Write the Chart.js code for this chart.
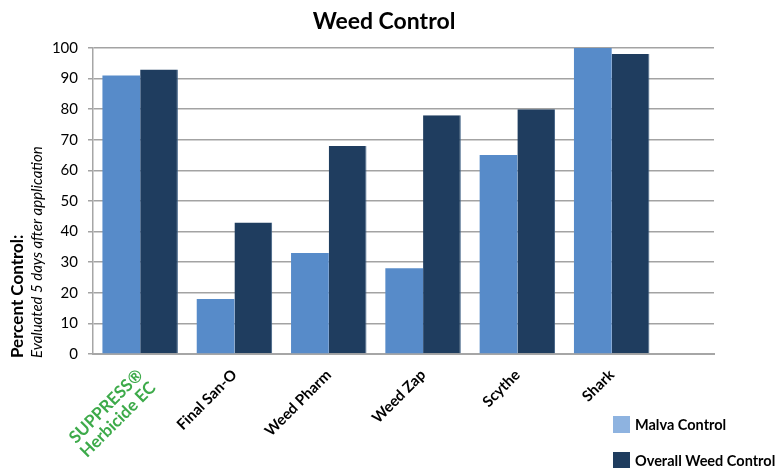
<!DOCTYPE html>
<html>
<head>
<meta charset="utf-8">
<script src="https://cdn.jsdelivr.net/npm/chart.js@4"></script>
<style>
  body { margin: 0; background: #fff; }
  #wrap { width: 778px; height: 468px; }
</style>
</head>
<body>
<div id="wrap"><canvas id="chart" width="778" height="468"></canvas></div>
<script>
const chartTitle = 'Weed Control';
const categories = [['SUPPRESS®', 'Herbicide EC'], 'Final San-O', 'Weed Pharm', 'Weed Zap', 'Scythe', 'Shark'];
const malvaControl = [91, 18, 33, 28, 65, 100];
const overallControl = [93, 43, 68, 78, 80, 98];
const seriesNames = ['Malva Control', 'Overall Weed Control'];
const yTicks = [0, 10, 20, 30, 40, 50, 60, 70, 80, 90, 100];
const yTitle = ['Percent Control:', 'Evaluated 5 days after application'];

const FONT = 'Lato, "Open Sans", sans-serif';
const barColors = ['#578BC9', '#1F3D5F'];
const legendColors = ['#8EB3E0', '#1F3D5F'];

// title, two-line axis title and the legend are drawn by hand
const overlay = {
    id: 'overlay',
    afterDraw(chart) {
        const ctx = chart.ctx;
        ctx.save();
        ctx.fillStyle = '#000';
        ctx.font = 'bold 23px ' + FONT;
        ctx.textAlign = 'center';
        ctx.textBaseline = 'middle';
        ctx.fillText(chartTitle, 384, 22);

        ctx.save();
        ctx.translate(18, 358);
        ctx.rotate(-Math.PI / 2);
        ctx.textAlign = 'left';
        ctx.font = 'bold 17px ' + FONT;
        ctx.fillText(yTitle[0], 0, 0);
        ctx.font = 'italic 15px ' + FONT;
        ctx.fillText(yTitle[1], 0, 19);
        ctx.restore();

        ctx.textAlign = 'left';
        ctx.font = 'bold 14.5px ' + FONT;
        seriesNames.forEach((name, i) => {
            const y = 416 + i * 36;
            ctx.fillStyle = legendColors[i];
            ctx.fillRect(613, y, 17, 17);
            ctx.fillStyle = '#000';
            ctx.fillText(name, 635, y + 9);
        });
        ctx.restore();
    }
};

new Chart(document.getElementById('chart'), {
    type: 'bar',
    data: {
        datasets: [{
            label: seriesNames[0],
            data: malvaControl.map((v, i) => ({x: i, y: v})),
            backgroundColor: barColors[0],
            categoryPercentage: 0.8,
            barPercentage: 1.0
        }, {
            label: seriesNames[1],
            data: overallControl.map((v, i) => ({x: i, y: v})),
            backgroundColor: barColors[1],
            borderColor: '#3E5F83',
            borderWidth: {right: 1},
            categoryPercentage: 0.8,
            barPercentage: 1.0
        }]
    },
    options: {
        responsive: false,
        animation: false,
        layout: { padding: { top: 48, right: 64, left: 0, bottom: 0 } },
        scales: {
            x: {
                type: 'linear',
                min: -0.5,
                max: 6.085,
                offset: false,
                grid: { display: false },
                border: { display: true, color: '#a6a6a6', width: 2 },
                afterBuildTicks(scale) {
                    scale.ticks = categories.map((c, i) => ({value: i}));
                },
                afterFit(scale) { scale.height = 114; },
                ticks: {
                    autoSkip: false,
                    minRotation: 45,
                    maxRotation: 45,
                    padding: 4,
                    callback: v => categories[v],
                    color: c => c.index === 0 ? '#3DAA4A' : '#000',
                    font: c => c.index === 0
                        ? { family: FONT, size: 17, weight: 'bold', lineHeight: 1.05 }
                        : { family: FONT, size: 15, weight: 'bold' }
                }
            },
            y: {
                min: 0,
                max: 100,
                afterBuildTicks(scale) {
                    scale.ticks = yTicks.map(v => ({value: v}));
                },
                afterFit(scale) { scale.width = 93; },
                grid: { color: '#a3a3a3', lineWidth: 1.5, tickLength: 5 },
                border: { display: true, color: '#a6a6a6', width: 1.5 },
                ticks: {
                    padding: 10,
                    color: '#000',
                    font: { family: FONT, size: 15 }
                }
            }
        },
        plugins: {
            legend: { display: false },
            title: { display: false },
            tooltip: { enabled: false }
        }
    },
    plugins: [overlay]
});
</script>
</body>
</html>
